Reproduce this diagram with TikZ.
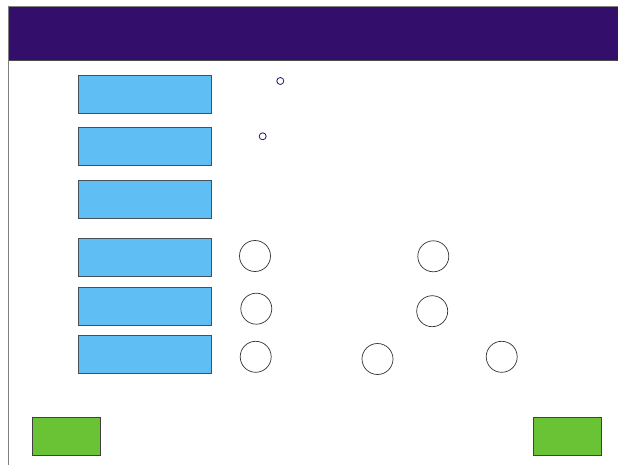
\documentclass[tikz,border=0pt]{standalone}
\definecolor{hdr}{RGB}{52,14,107}
\definecolor{bluebox}{RGB}{95,191,244}
\definecolor{greenbox}{RGB}{106,195,53}
\definecolor{edge}{RGB}{70,80,90}
\tikzset{
  bluerect/.style={draw=edge, fill=bluebox, line width=0.9pt, minimum width=133pt, minimum height=38pt, inner sep=0pt, anchor=north west},
  greenrect/.style={draw=black!75, fill=greenbox, line width=0.8pt, minimum width=68pt, minimum height=38pt, inner sep=0pt, anchor=north west},
  bigcirc/.style={draw=black!80, circle, minimum size=31pt, inner sep=0pt, line width=0.7pt},
  smallcirc/.style={draw=hdr, circle, minimum size=7pt, inner sep=0pt, line width=0.8pt}
}
\begin{document}
\begin{tikzpicture}[x=1pt,y=-1pt]
\useasboundingbox (0,0) rectangle (618,465);
% header band
\fill[hdr] (8,6) rectangle (620,60);
\draw[gray, line width=0.8pt] (8,6) -- (620,6);
\draw[black!70, line width=0.9pt] (8,60) -- (620,60);
\draw[gray, line width=1pt] (8,6) -- (8,466);
% blue boxes
\node[bluerect] (b1) at (78,75) {};
\node[bluerect] (b2) at (78,127.5) {};
\node[bluerect] (b3) at (78,180) {};
\node[bluerect] (b4) at (78,238) {};
\node[bluerect] (b5) at (78,287) {};
\node[bluerect] (b6) at (78,335) {};
% small circles
\node[smallcirc] (s1) at (280.3,81) {};
\node[smallcirc] (s2) at (262.7,136.3) {};
% big circles
\node[bigcirc] (c1) at (255,256) {};
\node[bigcirc] (c2) at (433.3,256.3) {};
\node[bigcirc] (c3) at (256.3,308.7) {};
\node[bigcirc] (c4) at (432.2,311.2) {};
\node[bigcirc] (c5) at (255.7,356.8) {};
\node[bigcirc] (c6) at (377.5,359) {};
\node[bigcirc] (c7) at (501.7,356.8) {};
% green boxes
\node[greenrect] (g1) at (32,417) {};
\node[greenrect] (g2) at (533,417) {};
\end{tikzpicture}
\end{document}
